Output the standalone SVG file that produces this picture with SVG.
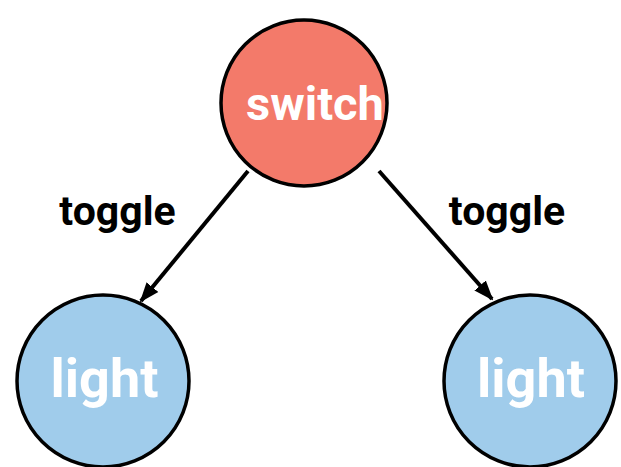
<svg xmlns="http://www.w3.org/2000/svg" width="621" height="467" viewBox="0 0 621 467">
<style>
.node circle{stroke:#000;stroke-width:3.5}
.node text{font-family:Roboto,"Liberation Sans",sans-serif;font-weight:bold;fill:#fff;text-anchor:middle}
.lbl{font-family:Roboto,"Liberation Sans",sans-serif;font-weight:bold;fill:#000;font-size:41px;text-anchor:middle}
.edge{stroke:#000;stroke-width:4;fill:none}
</style>
<defs>
<marker id="ah" viewBox="0 0 10 10" refX="9" refY="5" markerWidth="5" markerHeight="5" orient="auto" markerUnits="strokeWidth">
<path d="M0,1.2 L10,5 L0,8.8 z" fill="#000"/>
</marker>
</defs>
<g id="connectors">
<line class="edge" x1="248" y1="171" x2="141" y2="301" marker-end="url(#ah)"/>
<line class="edge" x1="379" y1="171" x2="492" y2="299" marker-end="url(#ah)"/>
<text class="lbl" x="117.5" y="225">toggle</text>
<text class="lbl" x="507" y="225">toggle</text>
</g>
<g id="switch" class="node">
<circle cx="304" cy="103" r="83" fill="#f37a6a"/>
<text x="315" y="120" font-size="47">switch</text>
</g>
<g id="light1" class="node">
<circle cx="103" cy="381" r="86" fill="#a0cceb"/>
<text x="104.5" y="397" font-size="54">light</text>
</g>
<g id="light2" class="node">
<circle cx="530" cy="381" r="86" fill="#a0cceb"/>
<text x="531" y="397" font-size="54">light</text>
</g>
</svg>
